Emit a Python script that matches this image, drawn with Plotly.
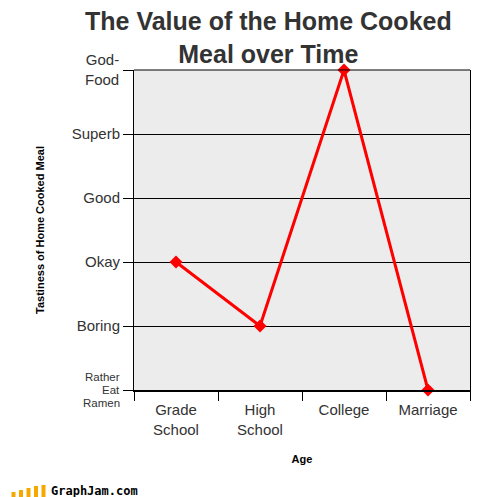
import plotly.graph_objects as go

# Data
categories = ["Grade<br>School", "High<br>School", "College", "Marriage"]
tastiness = [2, 1, 5, 0]
level_values = [0, 1, 2, 3, 4, 5]
level_labels = ["", "Boring", "Okay", "Good", "Superb", ""]
top_label = "God-<br>Food"
bottom_label_lines = ["Rather", "Eat", "Ramen"]

title_text = "The Value of the Home Cooked<br>Meal over Time"
x_title = "Age"
y_title = "Tastiness of Home Cooked Meal"

font_main = "Liberation Sans, Arial, sans-serif"

fig = go.Figure()
fig.add_trace(go.Scatter(
    x=categories, y=tastiness, mode="lines+markers",
    line=dict(color="#ff0000", width=3),
    marker=dict(symbol="diamond", size=10, color="#ff0000"),
    cliponaxis=False, showlegend=False, hoverinfo="skip",
))

# page body has an 8px margin -> figure is shifted by 8px
fig.update_layout(
    width=496, height=489,
    margin=dict(l=126, r=34, t=62, b=107),
    paper_bgcolor="white", plot_bgcolor="#ececec",
    font=dict(family=font_main, color="#333333", size=15),
    xaxis=dict(
        type="category", range=[-0.5, 3.5],
        tickson="boundaries", ticks="outside", ticklen=9, tickcolor="#000", tickwidth=1,
        showline=True, linecolor="#000", linewidth=2, showgrid=False,
        tickfont=dict(size=15, color="#333333"), ticklabelstandoff=5,
        title=dict(text="<b>" + x_title + "</b>",
                   font=dict(size=11, color="#000", family=font_main), standoff=19),
    ),
    yaxis=dict(
        range=[0, 5], tickmode="array", tickvals=level_values, ticktext=level_labels,
        ticks="outside", ticklen=10, tickcolor="#000", tickwidth=1,
        showline=True, mirror=True, linecolor="#000", linewidth=1,
        showgrid=True, gridcolor="#000", gridwidth=1, zeroline=False,
        tickfont=dict(size=15, color="#333333"),
        title=dict(text="<b>" + y_title + "</b>",
                   font=dict(size=11, color="#000", family=font_main), standoff=24),
    ),
)

# top border
fig.add_shape(type="line", xref="paper", yref="paper", x0=0, x1=1, y0=1, y1=1,
              line=dict(color="#000", width=1))

def px_x(X):
    return (X - 134) / 336

def px_y(Y):
    return (390 - Y) / 320

annotations = [
    dict(text=title_text, xref="paper", yref="paper", x=px_x(268), y=px_y(38),
         xanchor="center", yanchor="middle", showarrow=False, align="center",
         font=dict(family=font_main, size=25, color="#333333", weight="bold")),
    dict(text="<b>GraphJam.com</b>", xref="paper", yref="paper", x=px_x(49),
         y=px_y(491), xanchor="left", yanchor="middle", showarrow=False,
         font=dict(family="DejaVu Sans Mono, monospace", size=12, color="#000")),
    dict(text=top_label, xref="paper", yref="y", x=0, y=5, xshift=-13, yshift=1,
         xanchor="right", yanchor="middle", align="right", showarrow=False,
         font=dict(family=font_main, size=15, color="#333333")),
]
for i, t in enumerate(bottom_label_lines):
    annotations.append(dict(text=t, xref="paper", yref="y", x=0, y=0, xshift=-12,
                            yshift=(1 - i) * 13, xanchor="right", yanchor="middle",
                            showarrow=False, font=dict(family=font_main, size=11.5, color="#333333")))
fig.update_layout(annotations=annotations)

# logo bars (decoration)
bar_heights = [3, 5, 7, 9, 11, 12]
for i, h in enumerate(bar_heights):
    x0 = 4 + i * 7.5
    fig.add_shape(type="rect", xref="paper", yref="paper",
                  x0=px_x(x0), x1=px_x(x0 + 4),
                  y0=px_y(497), y1=px_y(497 - h),
                  line=dict(width=0), fillcolor="#f5a800")

fig.write_html("out.html")
